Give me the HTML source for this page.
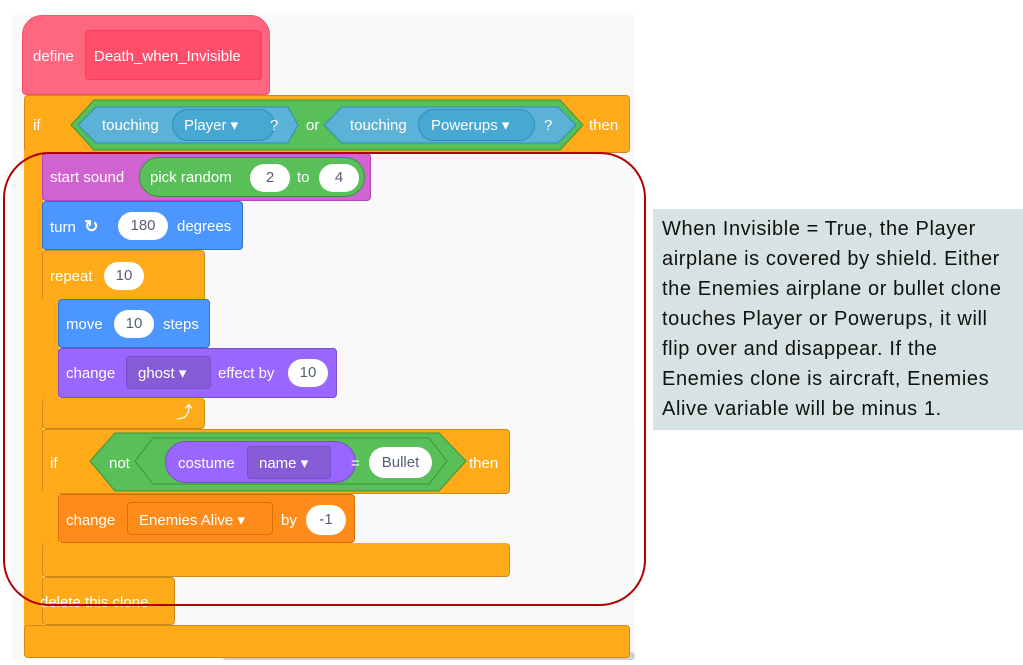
<!DOCTYPE html>
<html><head><meta charset="utf-8"><style>
body{margin:0;width:1023px;height:665px;background:#fff;position:relative;overflow:hidden;font-family:"Liberation Sans",sans-serif}
.a{position:absolute;box-sizing:border-box}
.t{position:absolute;color:#fff;font-size:15px;line-height:24px;white-space:nowrap}
.pill{position:absolute;background:#fff;border-radius:20px;color:#575e75;font-size:15px;text-align:center;box-sizing:border-box}
.O{background:#ffab19;border:1px solid #cf8b17}
</style></head><body>
<div class="a" style="left:12px;top:15px;width:623px;height:645px;background:#f9f9f9"></div>
<div class="a" style="left:222px;top:652px;width:413px;height:8px;background:#d0d0d0;border-radius:4px"></div>
<!-- define hat -->
<div class="a" style="left:22px;top:15px;width:248px;height:80px;background:#ff6680;border:1px solid #ff4d6a;border-radius:20px 20px 4px 4px"></div>
<div class="a" style="left:85px;top:30px;width:177px;height:50px;background:#ff4d6a;border:1px solid #ff3d5a;border-radius:4px"></div>
<div class="t" style="left:33px;top:45px">define</div>
<div class="t" style="left:94px;top:45px">Death_when_Invisible</div>
<!-- outer if -->
<div class="a O" style="left:24px;top:95px;width:606px;height:58px;border-radius:4px"></div>
<div class="a" style="left:24px;top:150px;width:19px;height:480px;background:#ffab19"></div>
<div class="a O" style="left:24px;top:625px;width:606px;height:33px;border-radius:4px"></div>
<div class="t" style="left:33px;top:114px">if</div>
<svg class="a" style="left:70px;top:99px" width="514" height="52"><polygon points="24,1 490,1 513,26 490,51 24,51 1,26" fill="#59c059" stroke="#389438"/>
<polygon points="26,7 218,7 228,25 218,43 26,43 8,25" fill="#5cb1d6" stroke="#2e8eb8" transform="translate(0,1)"/>
<polygon points="272,7 488,7 506,25 488,43 272,43 254,25" fill="#5cb1d6" stroke="#2e8eb8" transform="translate(0,1)"/></svg>
<div class="a" style="left:172px;top:109px;width:103px;height:32px;background:#47a8d1;border:1px solid #2e8eb8;border-radius:16px"></div>
<div class="a" style="left:418px;top:109px;width:117px;height:32px;background:#47a8d1;border:1px solid #2e8eb8;border-radius:16px"></div>
<div class="t" style="left:102px;top:114px">touching</div>
<div class="t" style="left:184px;top:114px">Player ▾</div>
<div class="t" style="left:270px;top:114px">?</div>
<div class="t" style="left:306px;top:114px">or</div>
<div class="t" style="left:350px;top:114px">touching</div>
<div class="t" style="left:431px;top:114px">Powerups ▾</div>
<div class="t" style="left:544px;top:114px">?</div>
<div class="t" style="left:589px;top:114px">then</div>
<!-- start sound -->
<div class="a" style="left:42px;top:153px;width:329px;height:48px;background:#cf63cf;border:1px solid #bd42bd;border-radius:4px"></div>
<div class="a" style="left:139px;top:157px;width:226px;height:40px;background:#59c059;border:1px solid #389438;border-radius:20px"></div>
<div class="t" style="left:50px;top:166px">start sound</div>
<div class="t" style="left:150px;top:166px">pick random</div>
<div class="pill" style="left:250px;top:164px;width:40px;height:28px;line-height:28px">2</div>
<div class="t" style="left:297px;top:166px">to</div>
<div class="pill" style="left:319px;top:164px;width:40px;height:28px;line-height:28px">4</div>
<!-- turn -->
<div class="a" style="left:42px;top:201px;width:201px;height:49px;background:#4c97ff;border:1px solid #3373cc;border-radius:4px"></div>
<div class="t" style="left:50px;top:215px">turn &nbsp;<b style="font-size:17px">↻</b></div>
<div class="pill" style="left:118px;top:212px;width:50px;height:28px;line-height:28px">180</div>
<div class="t" style="left:177px;top:215px">degrees</div>
<!-- repeat -->
<div class="a O" style="left:42px;top:250px;width:163px;height:52px;border-radius:4px"></div>
<div class="a" style="left:42px;top:298px;width:17px;height:104px;background:#ffab19"></div>
<div class="a O" style="left:42px;top:398px;width:163px;height:31px;border-radius:4px;border-top:none"></div>
<div class="t" style="left:50px;top:265px">repeat</div>
<div class="pill" style="left:104px;top:262px;width:40px;height:28px;line-height:28px">10</div>
<div class="t" style="left:176px;top:401px;font-size:17px">⤴</div>
<div class="a" style="left:58px;top:299px;width:152px;height:49px;background:#4c97ff;border:1px solid #3373cc;border-radius:4px"></div>
<div class="t" style="left:66px;top:313px">move</div>
<div class="pill" style="left:114px;top:310px;width:40px;height:28px;line-height:28px">10</div>
<div class="t" style="left:163px;top:313px">steps</div>
<div class="a" style="left:58px;top:348px;width:279px;height:50px;background:#9966ff;border:1px solid #774dcb;border-radius:4px"></div>
<div class="a" style="left:126px;top:356px;width:85px;height:33px;background:#855cd6;border:1px solid #774dcb;border-radius:4px"></div>
<div class="t" style="left:66px;top:362px">change</div>
<div class="t" style="left:138px;top:362px">ghost ▾</div>
<div class="t" style="left:218px;top:362px">effect by</div>
<div class="pill" style="left:288px;top:359px;width:40px;height:28px;line-height:28px">10</div>
<!-- inner if -->
<div class="a O" style="left:42px;top:429px;width:468px;height:65px;border-radius:4px"></div>
<div class="a" style="left:42px;top:490px;width:17px;height:57px;background:#ffab19"></div>
<div class="a O" style="left:42px;top:543px;width:468px;height:34px;border-radius:4px;border-top:none"></div>
<div class="t" style="left:50px;top:452px">if</div>
<svg class="a" style="left:89px;top:432px" width="378" height="60"><polygon points="26,1 350,1 377,29 350,59 26,59 1,29" fill="#59c059" stroke="#389438"/><polygon points="64,6 340,6 358,29 340,52 64,52 46,29" fill="#59c059" stroke="#389438"/></svg>
<div class="t" style="left:109px;top:452px">not</div>
<div class="a" style="left:165px;top:441px;width:191px;height:42px;background:#9966ff;border:1px solid #774dcb;border-radius:21px"></div>
<div class="a" style="left:247px;top:446px;width:84px;height:33px;background:#855cd6;border:1px solid #774dcb;border-radius:4px"></div>
<div class="t" style="left:178px;top:452px">costume</div>
<div class="t" style="left:259px;top:452px">name ▾</div>
<div class="t" style="left:351px;top:452px">=</div>
<div class="pill" style="left:369px;top:447px;width:63px;height:31px;line-height:31px">Bullet</div>
<div class="t" style="left:469px;top:452px">then</div>
<div class="a" style="left:58px;top:494px;width:297px;height:49px;background:#ff8c1a;border:1px solid #db6e00;border-radius:4px"></div>
<div class="a" style="left:127px;top:502px;width:146px;height:33px;background:#ff8c1a;border:1px solid #db6e00;border-radius:4px"></div>
<div class="t" style="left:66px;top:509px">change</div>
<div class="t" style="left:139px;top:509px">Enemies Alive ▾</div>
<div class="t" style="left:281px;top:509px">by</div>
<div class="pill" style="left:306px;top:505px;width:40px;height:30px;line-height:30px">-1</div>
<!-- delete clone -->
<div class="a O" style="left:42px;top:577px;width:133px;height:48px;border-radius:4px"></div>
<div class="t" style="left:40px;top:591px">delete this clone</div>
<!-- red outline -->
<div class="a" style="left:3px;top:152px;width:643px;height:454px;border:2.5px solid #b00000;border-radius:46px"></div>
<!-- note -->
<div class="a" style="left:653px;top:209px;width:370px;height:221px;background:#d6e3e2"></div>
<div class="a" style="left:662px;top:214px;width:361px;font-size:20px;letter-spacing:0.6px;line-height:30px;color:#111;white-space:nowrap">When Invisible = True, the Player<br>airplane is covered by shield. Either<br>the Enemies airplane or bullet clone<br>touches Player or Powerups, it will<br>flip over and disappear. If the<br>Enemies clone is aircraft, Enemies<br>Alive variable will be minus 1.</div>
</body></html>
